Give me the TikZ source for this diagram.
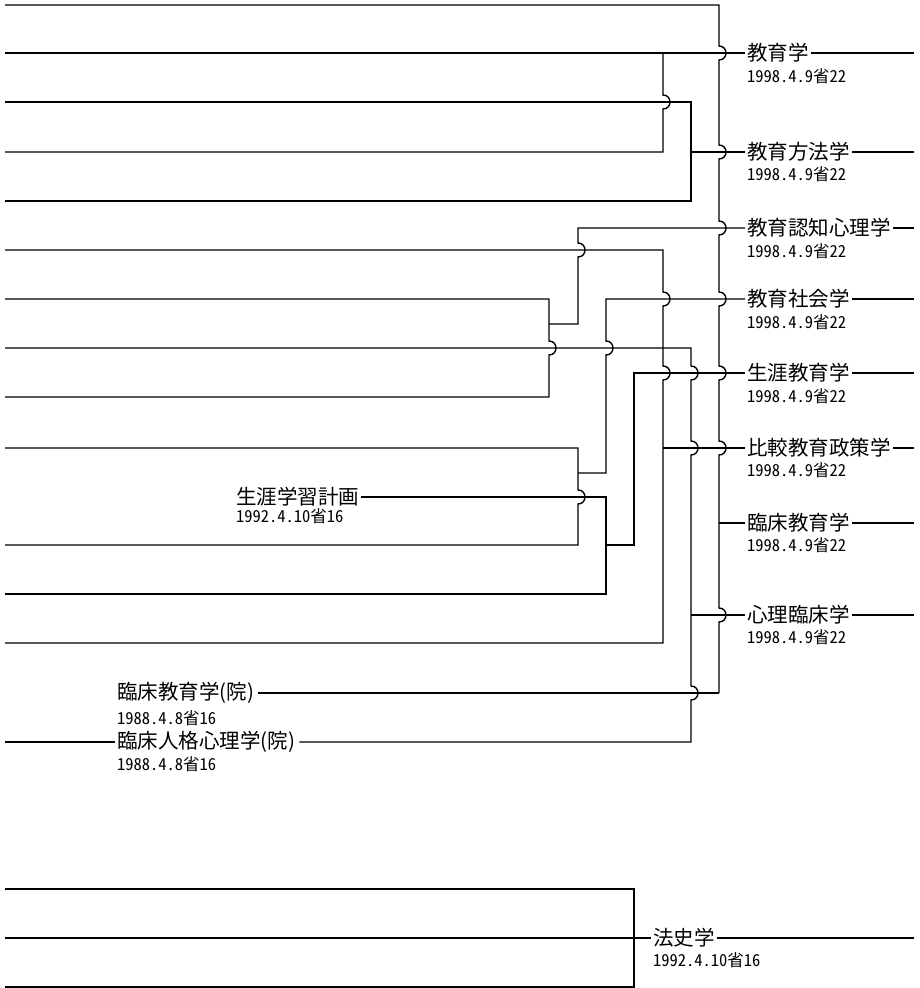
\documentclass[tikz,border=0pt]{standalone}
\usepackage{fontspec}
\newfontfamily\jp{Noto Sans CJK JP}
\newfontfamily\jpdate[CharacterWidth=Half]{Noto Sans CJK JP}
\newcommand\hp[2]{-- (#1,#2-7) .. controls (#1+9.3,#2-7) and (#1+9.3,#2+7) .. (#1,#2+7)}
\begin{document}
\begin{tikzpicture}[x=1pt,y=-1pt,
  wire/.style={line width=1.4pt,line join=miter},
  lbl/.style={anchor=west,inner sep=0pt,font=\jp\fontsize{20.5}{24}\selectfont},
  dt/.style={anchor=west,inner sep=0pt,font=\jpdate\fontsize{16.5}{20}\selectfont}]
\useasboundingbox[fill=white] (0,0) rectangle (920,988);
\coordinate (E) at (914,0);
\coordinate (W) at (5,0);

% right labels
\node[lbl] (r1) at (747,53) {教育学};
\node[dt] (d1) at (747,76) {1998.4.9省22};
\node[lbl] (r2) at (747,152) {教育方法学};
\node[dt] (d2) at (747,174) {1998.4.9省22};
\node[lbl] (r3) at (747,228) {教育認知心理学};
\node[dt] (d3) at (747,251) {1998.4.9省22};
\node[lbl] (r4) at (747,299) {教育社会学};
\node[dt] (d4) at (747,322) {1998.4.9省22};
\node[lbl] (r5) at (747,373) {生涯教育学};
\node[dt] (d5) at (747,396) {1998.4.9省22};
\node[lbl] (r6) at (747,448) {比較教育政策学};
\node[dt] (d6) at (747,470) {1998.4.9省22};
\node[lbl] (r7) at (747,523) {臨床教育学};
\node[dt] (d7) at (747,545) {1998.4.9省22};
\node[lbl] (r8) at (747,615) {心理臨床学};
\node[dt] (d8) at (747,637) {1998.4.9省22};

\foreach \n in {r1,r2,r3,r4,r5,r6,r7,r8}
  \draw[wire] ([xshift=2pt]\n.east) -- (\n.east -| E);

% left labels
\node[lbl] (lp) at (236,497) {生涯学習計画};
\node[dt] (dlp) at (236,516) {1992.4.10省16};
\node[lbl] (k1) at (117,693) {臨床教育学(院)};
\node[dt] (dk1) at (117,718) {1988.4.8省16};
\node[lbl] (k2) at (117,742) {臨床人格心理学(院)};
\node[dt] (dk2) at (117,764) {1988.4.8省16};

% trunk x=719
\draw[wire] (5,5) -- (719,5) \hp{719}{53} \hp{719}{152} \hp{719}{228} \hp{719}{299}
  \hp{719}{373} \hp{719}{448} \hp{719}{615} -- (719,693);
\draw[wire] (719,523) -- ([xshift=-2pt]r7.west);

% 教育学
\draw[wire] (5,53) -- ([xshift=-2pt]r1.west);
\draw[wire] (663,53) \hp{663}{102} -- (663,152) -- (5,152);

% 教育方法学
\draw[wire] (5,102) -- (691,102) -- (691,201) -- (5,201);
\draw[wire] (691,152) -- ([xshift=-2pt]r2.west);

% 教育認知心理学
\draw[wire] ([xshift=-2pt]r3.west) -- (578,228) \hp{578}{250} -- (578,324) -- (549,324);
\draw[wire] (5,299) -- (549,299) \hp{549}{348} -- (549,397) -- (5,397);

% 比較教育政策学
\draw[wire] (5,250) -- (663,250) \hp{663}{299} \hp{663}{373} -- (663,643) -- (5,643);
\draw[wire] (663,448) -- ([xshift=-2pt]r6.west);

% 教育社会学
\draw[wire] ([xshift=-2pt]r4.west) -- (606,299) \hp{606}{348} -- (606,473) -- (578,473);
\draw[wire] (5,448) -- (578,448) \hp{578}{497} -- (578,545) -- (5,545);

% 生涯教育学
\draw[wire] ([xshift=2pt]lp.east) -- (606,497) -- (606,594) -- (5,594);
\draw[wire] (606,545) -- (634,545) -- (634,373) -- ([xshift=-2pt]r5.west);

% 心理臨床学
\draw[wire] (5,348) -- (691,348) \hp{691}{373} \hp{691}{448} \hp{691}{693} -- (691,742) -- ([xshift=4pt]k2.east);
\draw[wire] (691,615) -- ([xshift=-2pt]r8.west);

% 臨床教育学(院)
\draw[wire] ([xshift=4pt]k1.east) -- (719,693);
\draw[wire] (5,742) -- ([xshift=-2pt]k2.west);

% 法史学
\node[lbl] (h) at (653,938) {法史学};
\node[dt] (dh) at (653,960) {1992.4.10省16};
\draw[wire] (5,889) -- (634,889) -- (634,987) -- (5,987);
\draw[wire] (5,938) -- ([xshift=-2pt]h.west);
\draw[wire] ([xshift=2pt]h.east) -- (h.east -| E);
\end{tikzpicture}
\end{document}
